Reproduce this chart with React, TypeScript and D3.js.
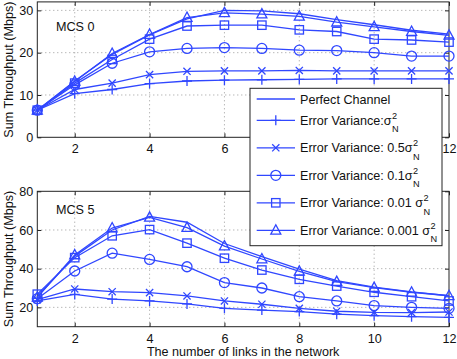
import React, { useEffect, useRef } from "react";
import * as d3 from "d3";

const links = [1, 2, 3, 4, 5, 6, 7, 8, 9, 10, 11, 12];

// MCS 0 panel
const mcs0Perfect = [6.4, 13.3, 19.6, 24.2, 28.0, 30.0, 29.9, 29.2, 27.8, 26.6, 25.3, 24.4];
const mcs0Var1 = [6.4, 10.3, 11.3, 12.7, 13.3, 13.5, 13.6, 13.7, 13.8, 13.8, 13.8, 13.8];
const mcs0Var05 = [6.4, 11.3, 12.8, 14.8, 15.6, 15.7, 15.7, 15.8, 15.7, 15.7, 15.7, 15.7];
const mcs0Var01 = [6.4, 12.4, 17.5, 20.2, 21.0, 21.2, 21.0, 20.6, 20.5, 20.0, 19.2, 19.2];
const mcs0Var001 = [6.4, 12.8, 18.4, 23.2, 26.3, 26.5, 26.5, 25.4, 25.0, 23.2, 23.0, 22.5];
const mcs0Var0001 = [6.4, 13.2, 19.8, 24.3, 28.3, 29.4, 29.1, 28.6, 27.2, 26.1, 25.0, 24.1];

// MCS 5 panel
const mcs5Perfect = [25.5, 46.5, 60.0, 67.0, 64.0, 53.0, 46.2, 39.8, 33.8, 30.5, 28.0, 26.0];
const mcs5Var1 = [23.3, 26.7, 24.3, 23.3, 21.8, 19.5, 18.6, 17.8, 16.5, 15.7, 15.2, 14.8];
const mcs5Var05 = [24.0, 29.5, 28.1, 27.6, 25.9, 23.3, 21.6, 19.5, 18.0, 17.4, 17.3, 17.6];
const mcs5Var01 = [24.5, 38.8, 48.0, 44.8, 41.0, 32.8, 30.0, 25.5, 23.3, 20.9, 20.0, 19.5];
const mcs5Var001 = [26.8, 45.7, 57.0, 60.2, 53.2, 45.4, 39.3, 34.5, 31.0, 27.8, 25.5, 23.3];
const mcs5Var0001 = [25.2, 47.1, 61.0, 66.5, 61.2, 51.7, 45.0, 38.6, 33.3, 30.2, 27.8, 26.0];

const markers = ["none", "plus", "cross", "circle", "square", "triangle"];
const legendLabels = [
  "Perfect Channel",
  "Error Variance:σ",
  "Error Variance: 0.5σ",
  "Error Variance: 0.1σ",
  "Error Variance: 0.01 σ",
  "Error Variance: 0.001 σ",
];
const xTicks = [2, 4, 6, 8, 10, 12];
const topYTicks = [0, 10, 20, 30];
const bottomYTicks = [20, 40, 60, 80];

const BLUE = "#3047ff";
const FONT = "'Liberation Sans', Arial, sans-serif";

function drawMarker(g, kind, x, y) {
  if (kind === "plus") {
    g.append("path").attr("d", `M${x - 5},${y}H${x + 5}M${x},${y - 5}V${y + 5}`);
  } else if (kind === "cross") {
    g.append("path").attr("d", `M${x - 3.6},${y - 3.6}L${x + 3.6},${y + 3.6}M${x - 3.6},${y + 3.6}L${x + 3.6},${y - 3.6}`);
  } else if (kind === "circle") {
    g.append("circle").attr("cx", x).attr("cy", y).attr("r", 5).attr("fill", "none");
  } else if (kind === "square") {
    g.append("rect").attr("x", x - 4.2).attr("y", y - 4.2).attr("width", 8.4).attr("height", 8.4).attr("fill", "none");
  } else if (kind === "triangle") {
    g.append("path").attr("d", `M${x},${y - 5.5}L${x + 5},${y + 3.8}L${x - 5},${y + 3.8}Z`).attr("fill", "none");
  }
}

function App() {
  const svgRef = useRef();

  useEffect(() => {
    const width = 457;
    const height = 359;
    const marginLeft = 37.3;
    const marginRight = 8;

    // legend box (drawn over the plots)
    const legX = 250, legY = 88.3, legW = 192, legH = 157.4;

    const svg = d3.select(svgRef.current)
      .attr("width", width)
      .attr("height", height);

    svg.selectAll("*").remove();

    const xScale = d3.scaleLinear().domain([1, 12]).range([marginLeft, width - marginRight]);

    const panels = [
      {
        yScale: d3.scaleLinear().domain([0, 32]).range([137.3, 1.9]),
        yTicks: topYTicks,
        series: [mcs0Perfect, mcs0Var1, mcs0Var05, mcs0Var01, mcs0Var001, mcs0Var0001],
        title: "MCS 0",
        titleAt: [1.5, 25.2],
      },
      {
        yScale: d3.scaleLinear().domain([10, 80]).range([326.7, 191.3]),
        yTicks: bottomYTicks,
        series: [mcs5Perfect, mcs5Var1, mcs5Var05, mcs5Var01, mcs5Var001, mcs5Var0001],
        title: "MCS 5",
        titleAt: [1.5, 68.3],
      },
    ];

    panels.forEach(p => {
      const [y0, y1] = p.yScale.range();
      const g = svg.append("g");

      // dotted grid
      const grid = g.append("g")
        .attr("stroke", "#9a9a9a")
        .attr("stroke-width", 1)
        .attr("stroke-dasharray", "1,3");
      xTicks.filter(t => t < 12).forEach(t => {
        grid.append("line").attr("x1", xScale(t)).attr("x2", xScale(t)).attr("y1", y0).attr("y2", y1);
      });
      p.yTicks.filter(t => p.yScale(t) > y1 + 1 && p.yScale(t) < y0 - 1).forEach(t => {
        grid.append("line").attr("x1", xScale(1)).attr("x2", xScale(12)).attr("y1", p.yScale(t)).attr("y2", p.yScale(t));
      });

      // tick labels hidden under the legend box are not drawn
      const hidden = t => y0 + 16 > legY && y0 < legY + legH && xScale(t) > legX && xScale(t) < legX + legW;

      // axes with inward ticks
      const ax = g.append("g").style("font-family", FONT).style("font-size", "12.6px");
      ax.append("g")
        .attr("transform", `translate(0,${y0})`)
        .call(d3.axisBottom(xScale).tickValues(xTicks).tickSize(-4).tickPadding(7)
          .tickFormat(t => (hidden(t) ? "" : d3.format("d")(t))));
      ax.append("g")
        .attr("transform", `translate(0,${y1})`)
        .call(d3.axisTop(xScale).tickValues(xTicks).tickSize(-4).tickFormat(() => ""));
      ax.append("g")
        .attr("transform", `translate(${xScale(1)},0)`)
        .call(d3.axisLeft(p.yScale).tickValues(p.yTicks).tickSize(-4).tickPadding(4).tickFormat(d3.format("d")));
      ax.append("g")
        .attr("transform", `translate(${xScale(12)},0)`)
        .call(d3.axisRight(p.yScale).tickValues(p.yTicks).tickSize(-4).tickFormat(() => ""));
      ax.selectAll(".domain").remove();
      ax.selectAll("line").attr("stroke", "#222");
      ax.selectAll("text").filter(function () { return this.textContent === ""; }).remove();
      ax.selectAll("text").attr("fill", "#111").attr("font-family", FONT).attr("font-size", "12.6px");

      g.append("rect")
        .attr("x", xScale(1)).attr("y", y1)
        .attr("width", xScale(12) - xScale(1)).attr("height", y0 - y1)
        .attr("fill", "none").attr("stroke", "#222").attr("stroke-width", 1);

      // series
      const line = d3.line().x((d, i) => xScale(links[i])).y(d => p.yScale(d));
      p.series.forEach((vals, si) => {
        const sg = g.append("g").attr("stroke", BLUE).attr("stroke-width", 1.3).attr("fill", "none");
        sg.append("path").attr("d", line(vals));
        vals.forEach((v, i) => drawMarker(sg, markers[si], xScale(links[i]), p.yScale(v)));
      });

      g.append("text")
        .attr("x", xScale(p.titleAt[0]))
        .attr("y", p.yScale(p.titleAt[1]))
        .attr("font-family", FONT).attr("font-size", "12.6px").attr("fill", "#111")
        .text(p.title);

      g.append("text")
        .attr("transform", `translate(12.5,${(y0 + y1) / 2}) rotate(-90)`)
        .attr("text-anchor", "middle")
        .attr("font-family", FONT).attr("font-size", "12.6px").attr("fill", "#111")
        .text("Sum Throughput (Mbps)");
    });

    svg.append("text")
      .attr("x", (xScale(1) + xScale(12)) / 2)
      .attr("y", 356.3)
      .attr("text-anchor", "middle")
      .attr("font-family", FONT).attr("font-size", "12.6px").attr("fill", "#111")
      .text("The number of links in the network");

    // legend
    const leg = svg.append("g");
    leg.append("rect")
      .attr("x", legX).attr("y", legY).attr("width", legW).attr("height", legH)
      .attr("fill", "white").attr("stroke", "#222").attr("stroke-width", 1);
    const rowY = [99, 120.3, 147.8, 175.3, 202.8, 230.3];
    legendLabels.forEach((label, i) => {
      const y = rowY[i];
      const rg = leg.append("g").attr("stroke", BLUE).attr("stroke-width", 1.3).attr("fill", "none");
      rg.append("line").attr("x1", 256.7).attr("x2", 295).attr("y1", y).attr("y2", y);
      drawMarker(rg, markers[i], 275.8, y);
      const t = leg.append("text")
        .attr("x", 300).attr("y", y + 4.5)
        .attr("font-family", FONT).attr("font-size", "12.6px").attr("fill", "#111");
      const main = t.append("tspan").text(label);
      if (i > 0) {
        const w = main.node().getComputedTextLength();
        t.append("tspan")
          .attr("x", 300 + w + 0.5).attr("y", y - 1.6)
          .attr("font-size", "9.2px")
          .text("2");
        t.append("tspan")
          .attr("x", 300 + w + 0.5).attr("y", y + 11.7)
          .attr("font-size", "9.2px")
          .text("N");
      }
    });
  }, []);

  return <svg ref={svgRef} style={{ position: "absolute", left: 0, top: 0 }}></svg>;
}

export default App;
